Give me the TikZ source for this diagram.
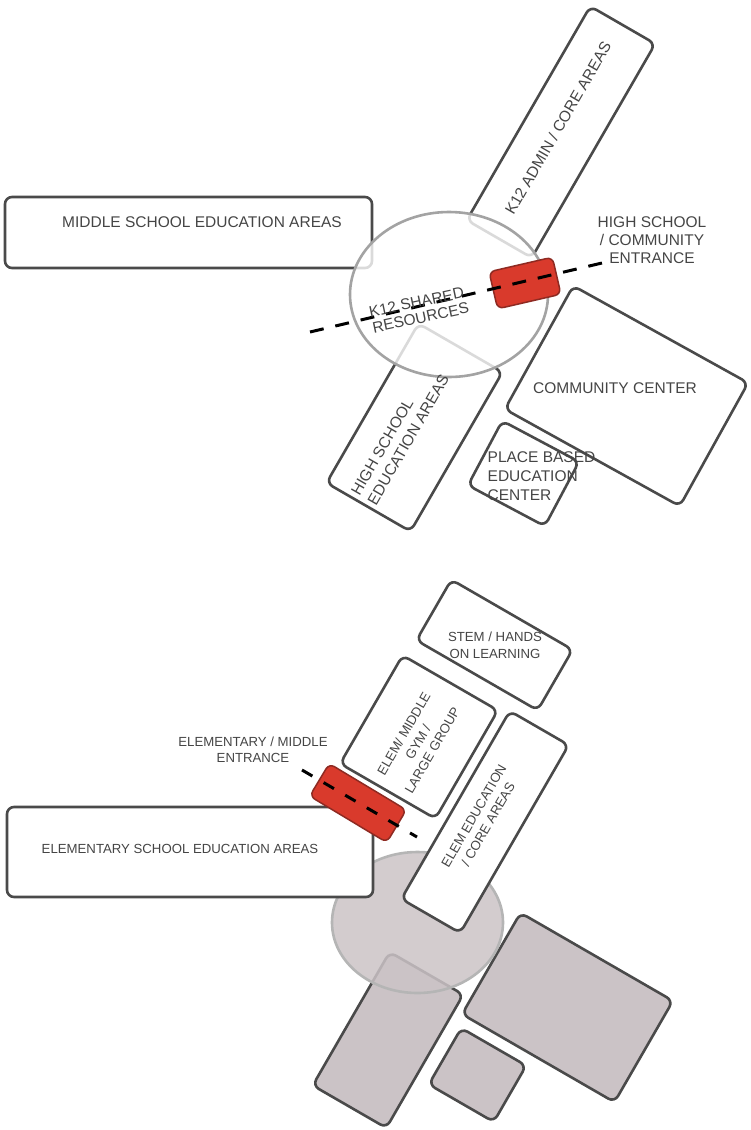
\documentclass[tikz,border=0pt]{standalone}
\usepackage{fontspec}
\setmainfont{Liberation Sans}
\usetikzlibrary{shapes.geometric}
\definecolor{wall}{HTML}{4A4A4A}
\definecolor{ink}{HTML}{454545}
\definecolor{hubline}{HTML}{A3A3A3}
\definecolor{door}{HTML}{D93A2C}
\definecolor{doorline}{HTML}{8E2A22}
\definecolor{shade}{HTML}{CBC3C6}

\begin{document}
\begin{tikzpicture}[x=1pt,y=-1pt,
    zone/.style={rectangle,draw=wall,fill=white,line width=2.6pt,rounded corners=7pt,inner sep=0pt},
    ghost/.style={zone,fill=shade},
    hub/.style={ellipse,inner sep=0pt,line width=2.6pt},
    entry/.style={rectangle,draw=doorline,fill=door,line width=1.5pt,rounded corners=6pt,inner sep=0pt},
    walkway/.style={line width=3pt,dash pattern=on 14pt off 12pt},
    big/.style={font=\fontsize{15.5}{19}\selectfont,text=ink,inner sep=0pt},
    small/.style={font=\fontsize{13.2}{16.5}\selectfont,text=ink,inner sep=0pt}]

    \useasboundingbox (0,0) rectangle (750,1130);

    % upper plan
    \node[zone,minimum width=367pt,minimum height=71pt] (ms) at (188.5,232.5) {};
    \node[zone,minimum width=247pt,minimum height=75pt,rotate=60] (k12) at (561,132) {};
    \node[zone,minimum width=184pt,minimum height=97pt,rotate=60] (hs) at (414.5,427.5) {};
    \node[zone,minimum width=200pt,minimum height=141pt,rotate=-29] (cc) at (626.5,396) {};
    \node[zone,minimum width=87pt,minimum height=73pt,rotate=-28] (pb) at (523.5,473.5) {};
    \node[hub,draw=hubline,fill=white,fill opacity=0.8,minimum width=198pt,minimum height=165pt] (shared) at (449,294.5) {};
    \node[entry,minimum width=65pt,minimum height=38pt,rotate=13] (hsdoor) at (525,283) {};
    \coordinate (hsa) at (310,332);
    \coordinate (hsb) at (602,263);
    \draw[walkway] (hsa) -- (hsb);

    \node[big] (mstext) at (202,222) {MIDDLE SCHOOL EDUCATION AREAS};
    \node[big,rotate=60] (k12text) at (558,128) {K12 ADMIN / CORE AREAS};
    \node[big,rotate=12,align=left,font=\fontsize{15.5}{16}\selectfont] (sharedtext) at (419,310) {K12 SHARED\\RESOURCES};
    \node[big,align=center,font=\fontsize{15.5}{18}\selectfont] (hsdoortext) at (652,240) {HIGH SCHOOL\\/ COMMUNITY\\ENTRANCE};
    \node[big,rotate=60,align=left] (hstext) at (400,435) {HIGH SCHOOL\\EDUCATION AREAS};
    \node[big] (cctext) at (615,388) {COMMUNITY CENTER};
    \node[big,align=left] (pbtext) at (541.5,476) {PLACE BASED\\EDUCATION\\CENTER};

    % lower plan
    \node[ghost,minimum width=154pt,minimum height=85pt,rotate=60] (gl) at (388,1040) {};
    \node[ghost,minimum width=176pt,minimum height=117pt,rotate=-30] (gr) at (567.5,1007.5) {};
    \node[ghost,minimum width=75pt,minimum height=65pt,rotate=-30] (gs) at (477.5,1075) {};
    \node[hub,draw=hubline!80,fill=shade,fill opacity=0.85,minimum width=171pt,minimum height=141pt] (core) at (417.5,922.5) {};
    \node[zone,minimum width=366pt,minimum height=90pt] (es) at (190,852) {};
    \node[zone,minimum width=217pt,minimum height=68pt,rotate=60] (ee) at (485,822) {};
    \node[zone,minimum width=125pt,minimum height=110pt,rotate=60] (gym) at (419,737) {};
    \node[zone,minimum width=140pt,minimum height=70pt,rotate=-30] (stem) at (494.5,645) {};
    \node[entry,minimum width=90pt,minimum height=38pt,rotate=-31] (esdoor) at (358,803) {};
    \coordinate (esa) at (302,770);
    \coordinate (esb) at (417,837);
    \draw[walkway,dash pattern=on 12pt off 13pt] (esa) -- (esb);

    \node[small] (estext) at (180,849) {ELEMENTARY SCHOOL EDUCATION AREAS};
    \node[small,align=center] (esdoortext) at (253,750) {ELEMENTARY / MIDDLE\\ENTRANCE};
    \node[small,align=center] (stemtext) at (495,645.5) {STEM / HANDS\\ON LEARNING};
    \node[small,rotate=60,align=center] (gymtext) at (418,742) {ELEM/ MIDDLE\\GYM /\\LARGE GROUP};
    \node[small,rotate=60,align=center] (eetext) at (481,820) {ELEM EDUCATION\\/ CORE AREAS};
\end{tikzpicture}
\end{document}
